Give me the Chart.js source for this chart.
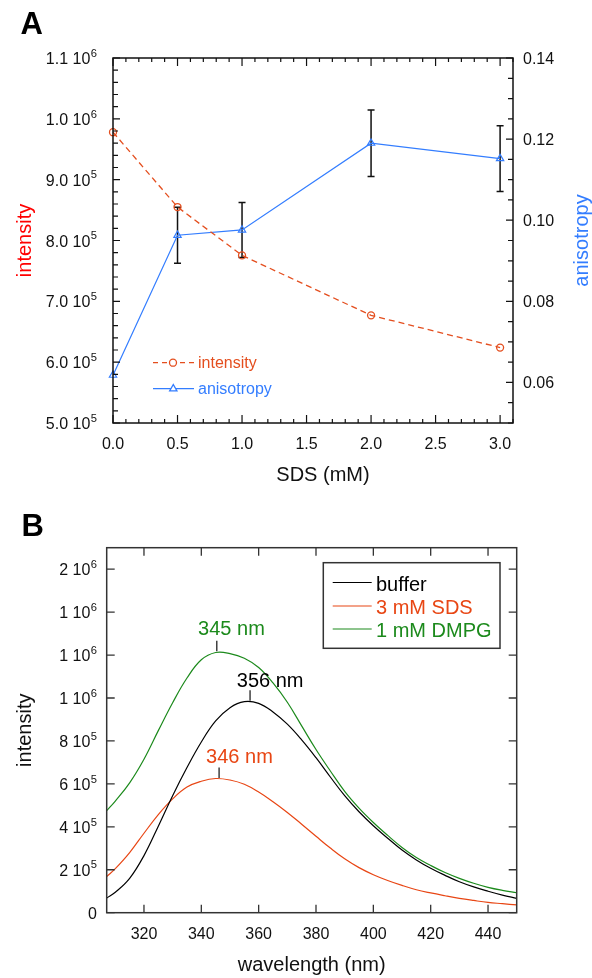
<!DOCTYPE html>
<html><head><meta charset="utf-8">
<script src="https://cdn.jsdelivr.net/npm/chart.js@4.4.1/dist/chart.umd.min.js"></script>
<style>
html,body{margin:0;padding:0;background:#fff;}
body{width:592px;height:978px;position:relative;overflow:hidden;}
canvas{position:absolute;left:0;}
#cA{top:0;}
#cB{top:490px;}
</style></head><body>
<canvas id="cA" width="592" height="490"></canvas>
<canvas id="cB" width="592" height="488"></canvas>
<script>
// ---------- Panel A data ----------
const sdsConc = [0, 0.5, 1.0, 2.0, 3.0];
const intensity = [978000, 855000, 775500, 677000, 624000];
const anisotropy = [0.0618, 0.0963, 0.0976, 0.1190, 0.1152];
const anisotropyErr = [0, 0.0069, 0.0068, 0.0082, 0.0081];
const aXTicks = [0, 0.5, 1, 1.5, 2, 2.5, 3];
const aXTickLabels = ['0.0','0.5','1.0','1.5','2.0','2.5','3.0'];
const aYTicks = [500000, 600000, 700000, 800000, 900000, 1000000, 1100000];
const aYMant = ['5.0','6.0','7.0','8.0','9.0','1.0','1.1'];
const aYExp = ['5','5','5','5','5','6','6'];
const aY1Ticks = [0.06, 0.08, 0.10, 0.12, 0.14];
const aY1Labels = ['0.06','0.08','0.10','0.12','0.14'];

// ---------- Panel B data ----------
const wavelength = [307,310,315,320,325,330,335,340,345,350,355,360,365,370,375,380,385,390,395,400,405,410,415,420,425,430,435,440,445,450];
const bufferInt = [68000,95000,160000,266000,403000,545000,676000,795000,893000,955000,983000,975000,935000,878000,805000,722000,632000,545000,470000,405000,347000,292000,246000,207000,174000,144000,120000,100000,82000,67000];
const sdsInt = [168000,205000,280000,370000,457000,530000,585000,612000,625000,618000,598000,562000,517000,467000,412000,356000,301000,251000,210000,177000,150000,127000,107000,92000,79000,67000,57000,48000,42000,36000];
const dmpgInt = [475000,520000,605000,715000,848000,978000,1093000,1178000,1212000,1207000,1185000,1142000,1070000,980000,870000,760000,660000,565000,487000,420000,360000,304000,257000,220000,187000,160000,137000,118000,104000,93000];
const seriesNames = ['buffer','3 mM SDS','1 mM DMPG'];
const bXTicks = [320,340,360,380,400,420,440];
const bYTicks = [0,200000,400000,600000,800000,1000000,1200000,1400000,1600000];
const bYMant = ['0','2','4','6','8','1','1','1','2'];
const bYExp = ['','5','5','5','5','6','6','6','6'];
const peakLabels = ['345 nm','356 nm','346 nm'];
const peakNm = [345.4, 357, 346.2];
const peakVal = [1215000, 985000, 625000];

// ---------- styles ----------
const FF = '"Liberation Sans", Arial, Helvetica, sans-serif';
const cOrange = 'rgb(228,78,30)';
const cBlue = 'rgb(51,125,255)';
const cRed = 'rgb(255,0,0)';
const cBRed = 'rgb(232,70,20)';
const cGreen = 'rgb(28,138,28)';
const cBlack = '#000';

function supLabelRight(ctx, xRight, yMid, mant, exp, size){
  ctx.textBaseline = 'alphabetic'; ctx.textAlign = 'left';
  ctx.font = (size*0.7)+'px '+FF;
  const wE = exp ? ctx.measureText(exp).width : 0;
  ctx.font = size+'px '+FF;
  const text = exp ? mant + ' 10' : mant;
  const wM = ctx.measureText(text).width;
  const x0 = xRight - wE - (exp?0.5:0) - wM;
  ctx.fillText(text, x0, yMid + 6);
  if (exp){
    ctx.font = (size*0.7)+'px '+FF;
    ctx.fillText(exp, x0 + wM + 0.5, yMid - 1.3);
  }
}

const pluginA = {
  id: 'decoA',
  beforeDatasetsDraw(chart){
    const {ctx, scales:{x, y1}} = chart;
    ctx.save(); ctx.strokeStyle = '#111'; ctx.lineWidth = 1.5;
    sdsConc.forEach((c,i)=>{
      const e = anisotropyErr[i]; if(!e) return;
      const px = x.getPixelForValue(c);
      const t = y1.getPixelForValue(anisotropy[i]+e), b = y1.getPixelForValue(anisotropy[i]-e);
      ctx.beginPath();
      ctx.moveTo(px,t); ctx.lineTo(px,b);
      ctx.moveTo(px-3.5,t); ctx.lineTo(px+3.5,t);
      ctx.moveTo(px-3.5,b); ctx.lineTo(px+3.5,b);
      ctx.stroke();
    });
    ctx.restore();
  },
  afterDraw(chart){
    const {ctx, chartArea:ca, scales:{x, y, y1}} = chart;
    ctx.save();
    ctx.strokeStyle = '#111'; ctx.lineWidth = 1.5;
    ctx.strokeRect(ca.left, ca.top, ca.right-ca.left, ca.bottom-ca.top);
    ctx.lineWidth = 1.2;
    ctx.beginPath();
    for (let i=0;i<=31;i++){
      const v = i/10, px = x.getPixelForValue(v), L = (i%5===0)?8:4;
      ctx.moveTo(px, ca.bottom); ctx.lineTo(px, ca.bottom-L);
      ctx.moveTo(px, ca.top); ctx.lineTo(px, ca.top+L);
    }
    for (let i=0;i<=30;i++){
      const v = 500000 + i*20000, py = y.getPixelForValue(v), L = (i%5===0)?7:5;
      ctx.moveTo(ca.left, py); ctx.lineTo(ca.left+L, py);
    }
    for (let i=0;i<=18;i++){
      const v = 0.05 + i*0.005, py = y1.getPixelForValue(v), L = (i%4===2)?7:5;
      ctx.moveTo(ca.right, py); ctx.lineTo(ca.right-L, py);
    }
    ctx.stroke();
    ctx.fillStyle = '#111';
    ctx.font = '16px '+FF; ctx.textAlign = 'center'; ctx.textBaseline = 'alphabetic';
    aXTicks.forEach((v,i)=>{ ctx.fillText(aXTickLabels[i], x.getPixelForValue(v), 448.5); });
    aYTicks.forEach((v,i)=>{ supLabelRight(ctx, 97, y.getPixelForValue(v), aYMant[i], aYExp[i], 16); });
    ctx.font = '16px '+FF; ctx.textAlign = 'left';
    aY1Ticks.forEach((v,i)=>{ ctx.fillText(aY1Labels[i], 523, y1.getPixelForValue(v)+6); });
    ctx.font = '20px '+FF; ctx.textAlign = 'center'; ctx.fillStyle = '#111';
    ctx.fillText('SDS (mM)', 323, 481);
    const midY = (ca.top+ca.bottom)/2;
    ctx.save(); ctx.translate(25, midY); ctx.rotate(-Math.PI/2);
    ctx.textBaseline = 'middle'; ctx.fillStyle = cRed; ctx.fillText('intensity', 0, 0); ctx.restore();
    ctx.save(); ctx.translate(582, midY); ctx.rotate(-Math.PI/2);
    ctx.textBaseline = 'middle'; ctx.fillStyle = cBlue; ctx.fillText('anisotropy', 0, 0); ctx.restore();
    ctx.lineWidth = 1.3;
    ctx.strokeStyle = cOrange; ctx.setLineDash([5,4]);
    ctx.beginPath(); ctx.moveTo(153, 362.7); ctx.lineTo(196, 362.7); ctx.stroke();
    ctx.setLineDash([]);
    ctx.fillStyle = '#fff';
    Chart.helpers.drawPoint(ctx, {pointStyle:'circle', radius:3.5, borderWidth:1.3, rotation:0}, 173, 362.7);
    ctx.strokeStyle = cBlue;
    ctx.beginPath(); ctx.moveTo(153, 388.7); ctx.lineTo(194, 388.7); ctx.stroke();
    Chart.helpers.drawPoint(ctx, {pointStyle:'triangle', radius:4.2, borderWidth:1.2, rotation:0}, 173.3, 388.7);
    ctx.font = '16px '+FF; ctx.textAlign = 'left'; ctx.textBaseline = 'alphabetic';
    ctx.fillStyle = cOrange; ctx.fillText('intensity', 198, 368.3);
    ctx.fillStyle = cBlue; ctx.fillText('anisotropy', 198, 394.3);
    ctx.fillStyle = '#000'; ctx.font = 'bold 31px '+FF;
    ctx.fillText('A', 20.5, 34.3);
    ctx.restore();
  }
};

const pluginB = {
  id: 'decoB',
  afterDraw(chart){
    const {ctx, chartArea:ca, scales:{x, y}} = chart;
    ctx.save();
    ctx.strokeStyle = '#333'; ctx.lineWidth = 1.5;
    ctx.strokeRect(ca.left, ca.top, ca.right-ca.left, ca.bottom-ca.top);
    ctx.lineWidth = 1.3;
    ctx.beginPath();
    bXTicks.forEach(v=>{ const px = x.getPixelForValue(v);
      ctx.moveTo(px, ca.bottom); ctx.lineTo(px, ca.bottom-8);
      ctx.moveTo(px, ca.top); ctx.lineTo(px, ca.top+8); });
    bYTicks.forEach(v=>{ const py = y.getPixelForValue(v);
      ctx.moveTo(ca.left, py); ctx.lineTo(ca.left+8, py);
      ctx.moveTo(ca.right, py); ctx.lineTo(ca.right-8, py); });
    ctx.stroke();
    ctx.fillStyle = '#111';
    ctx.font = '16px '+FF; ctx.textAlign = 'center'; ctx.textBaseline = 'alphabetic';
    bXTicks.forEach(v=>{ ctx.fillText(String(v), x.getPixelForValue(v), 938.5-490); });
    bYTicks.forEach((v,i)=>{ supLabelRight(ctx, 97, y.getPixelForValue(v), bYMant[i], bYExp[i], 16); });
    ctx.font = '20px '+FF; ctx.textAlign = 'center'; ctx.fillStyle = '#111';
    ctx.fillText('wavelength (nm)', (ca.left+ca.right)/2, 971-490);
    ctx.save(); ctx.translate(25, (ca.top+ca.bottom)/2); ctx.rotate(-Math.PI/2);
    ctx.textBaseline = 'middle'; ctx.fillText('intensity', 0, 0); ctx.restore();
    const annColors = [cGreen, cBlack, cBRed];
    const annGap = [5.7, 3, 5];
    const annShift = [18.7, 13.3, 13];
    ctx.lineWidth = 1.3;
    peakNm.forEach((nm,i)=>{
      const px = x.getPixelForValue(nm), py = y.getPixelForValue(peakVal[i]);
      ctx.strokeStyle = '#222';
      ctx.beginPath(); ctx.moveTo(px, py-0.5); ctx.lineTo(px, py-11); ctx.stroke();
      ctx.fillStyle = annColors[i]; ctx.font = '20px '+FF; ctx.textAlign = 'left';
      ctx.fillText(peakLabels[i], px-annShift[i], py-11-annGap[i]);
    });
    ctx.strokeStyle = '#333'; ctx.lineWidth = 1.5;
    ctx.strokeRect(323.3, 562.7-490, 500-323.3, 648.3-562.7);
    const legColors = [cBlack, cBRed, cGreen];
    const legLineY = [582.5, 606, 629];
    const legBase = [590.7, 614, 637.3];
    ctx.lineWidth = 1.2; ctx.font = '20px '+FF; ctx.textAlign = 'left';
    seriesNames.forEach((n,i)=>{
      ctx.strokeStyle = legColors[i];
      ctx.beginPath(); ctx.moveTo(332.7, legLineY[i]-490); ctx.lineTo(371.7, legLineY[i]-490); ctx.stroke();
      ctx.fillStyle = legColors[i]; ctx.fillText(n, 376, legBase[i]-490);
    });
    ctx.fillStyle = '#000'; ctx.font = 'bold 31px '+FF;
    ctx.fillText('B', 21.5, 535.7-490);
    ctx.restore();
  }
};

Chart.defaults.font.family = FF;

new Chart(document.getElementById('cA'), {
  type: 'line',
  data: { datasets: [
    { label:'intensity', data: sdsConc.map((c,i)=>({x:c, y:intensity[i]})), yAxisID:'y',
      borderColor:cOrange, borderDash:[6,4], borderWidth:1.3, tension:0,
      pointStyle:'circle', pointRadius:3.5, pointBorderColor:cOrange, pointBorderWidth:1.3,
      pointBackgroundColor:'rgba(255,255,255,0)', clip:false },
    { label:'anisotropy', data: sdsConc.map((c,i)=>({x:c, y:anisotropy[i]})), yAxisID:'y1',
      borderColor:cBlue, borderWidth:1.2, tension:0,
      pointStyle:'triangle', pointRadius:4.2, pointBorderColor:cBlue, pointBorderWidth:1.2,
      pointBackgroundColor:'rgba(255,255,255,0)', clip:false }
  ]},
  options: {
    responsive:false, animation:false, events:[],
    layout:{ padding:{ left:113, top:58, right:79, bottom:67 } },
    plugins:{ legend:{display:false}, tooltip:{enabled:false} },
    scales:{
      x:{ type:'linear', min:0, max:3.1, display:false },
      y:{ type:'linear', min:500000, max:1100000, display:false, position:'left' },
      y1:{ type:'linear', min:0.05, max:0.14, display:false, position:'right' }
    }
  },
  plugins:[pluginA]
});

new Chart(document.getElementById('cB'), {
  type: 'line',
  data: { datasets: [
    { label:seriesNames[2], data: wavelength.map((w,i)=>({x:w, y:dmpgInt[i]})), borderColor:cGreen, borderWidth:1.2, pointRadius:0, tension:0.4 },
    { label:seriesNames[0], data: wavelength.map((w,i)=>({x:w, y:bufferInt[i]})), borderColor:cBlack, borderWidth:1.2, pointRadius:0, tension:0.4 },
    { label:seriesNames[1], data: wavelength.map((w,i)=>({x:w, y:sdsInt[i]})), borderColor:cBRed, borderWidth:1.2, pointRadius:0, tension:0.4 }
  ]},
  options: {
    responsive:false, animation:false, events:[],
    layout:{ padding:{ left:106.7, top:57.7, right:75.3, bottom:65.3 } },
    plugins:{ legend:{display:false}, tooltip:{enabled:false} },
    scales:{
      x:{ type:'linear', min:307, max:450, display:false },
      y:{ type:'linear', min:0, max:1700000, display:false }
    }
  },
  plugins:[pluginB]
});
</script>
</body></html>
